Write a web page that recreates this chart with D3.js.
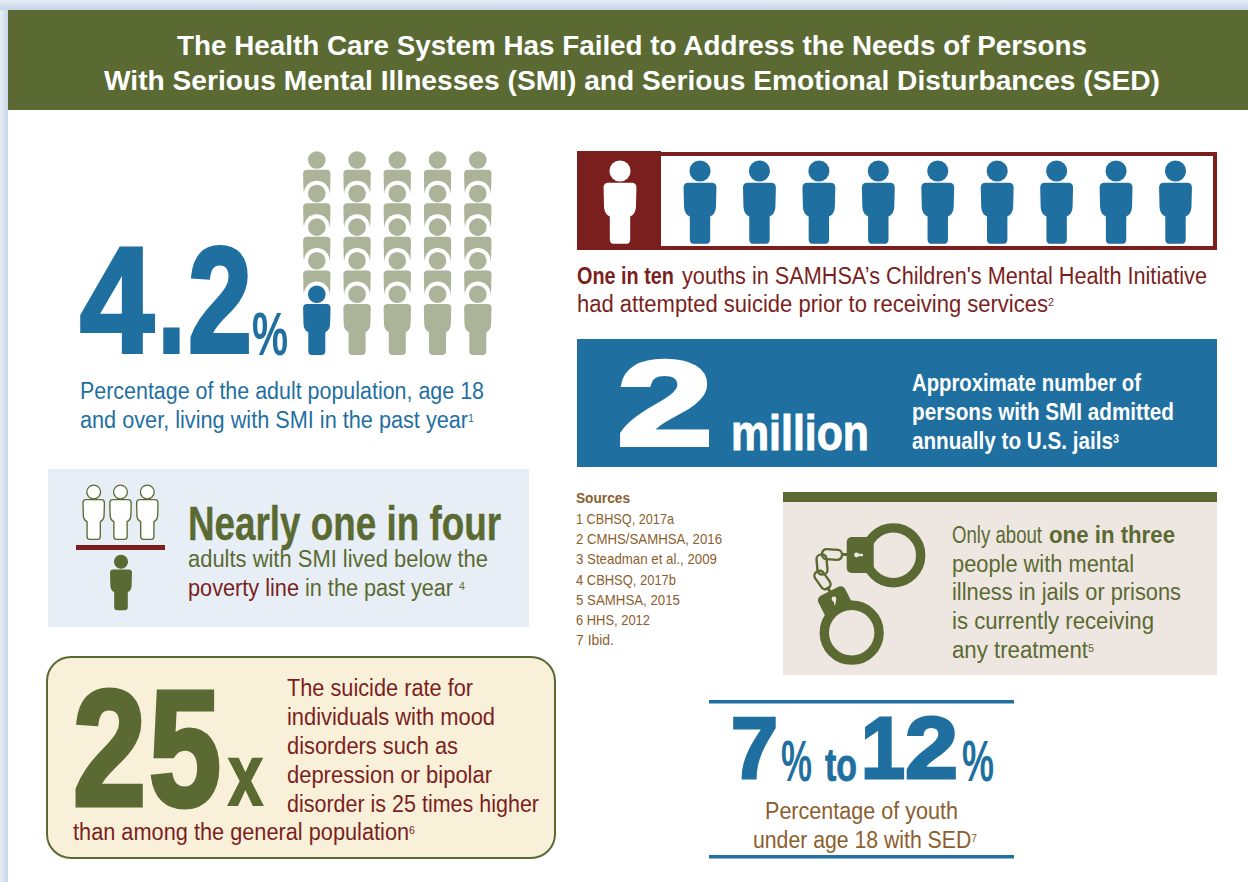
<!DOCTYPE html>
<html>
<head>
<meta charset="utf-8">
<script src="https://cdn.jsdelivr.net/npm/d3@7"></script>
<style>
  html, body { margin: 0; padding: 0; background: #fff; overflow: hidden; }
  svg { display: block; }
  text { font-family: "Liberation Sans Narrow", "Liberation Sans", sans-serif; }
</style>
</head>
<body>
<svg width="1248" height="882"></svg>
<script>
// data
const titleLines = ["The Health Care System Has Failed to Address the Needs of Persons",
  "With Serious Mental Illnesses (SMI) and Serious Emotional Disturbances (SED)"];
const adultCols = [0, 1, 2, 3, 4];
const adultRows = [0, 1, 2, 3, 4];
const adultHighlight = [[0, 4]]; // col,row: 1 in 25 = about 4.2%
const adultStat = ["4", ".", "2", "%"];
const adultText = ["Percentage of the adult population, age 18", "and over, living with SMI in the past year", "1"];
const youthPeople = [0, 1, 2, 3, 4, 5, 6, 7, 8]; // the nine others of "one in ten"
const suicideText = ["One in ten", "youths in SAMHSA\u2019s Children's Mental Health Initiative",
  "had attempted suicide prior to receiving services", "2"];
const jailStat = ["2", "million"];
const jailText = ["Approximate number of", "persons with SMI admitted", "annually to U.S. jails", "3"];
const povertyAbove = [0, 1, 2];
const povertyText = ["Nearly one in four", "adults with SMI lived below the", "poverty line", "in the past year ", "4"];
const moodStat = ["2", "5", "x"];
const moodText = ["The suicide rate for", "individuals with mood", "disorders such as", "depression or bipolar",
  "disorder is 25 times higher", "than among the general population", "6"];
const sourcesHead = "Sources";
const sources = ["1  CBHSQ, 2017a", "2  CMHS/SAMHSA, 2016", "3  Steadman et al., 2009", "4  CBHSQ, 2017b",
  "5  SAMHSA, 2015", "6  HHS, 2012", "7  Ibid."];
const treatText = ["Only about", "one in three", "people with mental", "illness in jails or prisons",
  "is currently receiving", "any treatment", "5"];
const sedStat = ["7", "%", "to", "1", "2", "%"];
const sedText = ["Percentage of youth", "under age 18 with SED", "7"];

const blue = "#1f6fa1", sage = "#abb399", maroon = "#7b1f1e", olive = "#5a6a32", brown = "#8b5e2e";

const svg = d3.select("svg");

// soft shadow along the top and left of the page
const defs = svg.append("defs");
const gradTop = defs.append("linearGradient").attr("id", "shTop").attr("x1", 0).attr("x2", 0).attr("y1", 0).attr("y2", 1);
gradTop.append("stop").attr("offset", 0).attr("stop-color", "#e6edf6");
gradTop.append("stop").attr("offset", 1).attr("stop-color", "#c6d5e8");
const gradLeft = defs.append("linearGradient").attr("id", "shLeft");
gradLeft.append("stop").attr("offset", 0).attr("stop-color", "#e6edf6");
gradLeft.append("stop").attr("offset", 1).attr("stop-color", "#c6d5e8");
svg.append("rect").attr("width", 1248).attr("height", 10).attr("fill", "url(#shTop)");
svg.append("rect").attr("y", 10).attr("width", 8).attr("height", 872).attr("fill", "url(#shLeft)");

function box(x, y, w, h, fill) {
  return svg.append("rect").attr("x", x).attr("y", y).attr("width", w).attr("height", h).attr("fill", fill);
}

// w is the measured width in the reference, the glyphs get squeezed to fit
function txt(x, y, str, size, color, w, bold, family) {
  const t = svg.append("text").attr("x", x).attr("y", y).attr("font-size", size).attr("fill", color).text(str);
  if (bold) t.attr("font-weight", "bold");
  if (family) t.style("font-family", family);
  if (w) t.attr("textLength", w).attr("lengthAdjust", "spacingAndGlyphs");
  return t;
}

// big numerals are heavier than any bold we have, so thicken with a stroke
function heavy(x, y, str, size, color, w, sw, family) {
  return txt(x, y, str, size, color, w, true, family)
    .attr("stroke", color).attr("stroke-width", sw).attr("stroke-linejoin", "miter");
}

function sup(t, str, dy, size) {
  t.append("tspan").attr("dy", dy).attr("font-size", size).attr("font-weight", t.attr("font-weight")).text(str);
  return t;
}

// person icon, origin at the centre of the head
const bodyPath = "M-9.7,9.7 H9.7 Q13.7,9.7 13.7,13.7 L13.3,30 Q13,36 8.5,38 V57 Q8.5,60.7 4.8,60.7 H-4.8 Q-8.5,60.7 -8.5,57 V38 Q-13,36 -13.3,30 L-13.7,13.7 Q-13.7,9.7 -9.7,9.7 Z";
function person(parent, x, y, s, fill, stroke) {
  const g = parent.append("g").attr("transform", `translate(${x},${y}) scale(${s})`);
  g.append("circle").attr("r", 8.8).attr("fill", fill);
  g.append("path").attr("d", bodyPath).attr("fill", fill);
  if (stroke) g.selectAll("*").attr("stroke", stroke).attr("stroke-width", 1.7);
  return g;
}

// header band
box(8, 10, 1240, 100, olive);
txt(632, 55, titleLines[0], 27.5, "#fff", 910, true, "Liberation Sans").attr("text-anchor", "middle");
txt(632, 90, titleLines[1], 27.5, "#fff", 1056, true, "Liberation Sans").attr("text-anchor", "middle");

// 4.2% block
const adultX = d3.scalePoint().domain(adultCols).range([316.8, 477.8]);
const adultY = d3.scalePoint().domain(adultRows).range([160, 294.3]);
const adultG = svg.append("g");
adultRows.forEach(r => adultCols.forEach(c => {
  const on = adultHighlight.some(h => h[0] === c && h[1] === r);
  if (r > 0) adultG.append("circle").attr("cx", adultX(c)).attr("cy", adultY(r)).attr("r", 12.8).attr("fill", "#fff");
  person(adultG, adultX(c), adultY(r), 1, on ? blue : sage);
}));
heavy(80, 351.5, adultStat[0], 150, blue, 74, 4);
heavy(158, 351.5, adultStat[1], 150, blue, 27, 4);
heavy(188, 351.5, adultStat[2], 150, blue, 64, 4);
txt(252, 355, adultStat[3], 62, blue, 36, true);
txt(80, 399, adultText[0], 23.5, blue, 404);
sup(txt(80, 428, adultText[1], 23.5, blue, 394), adultText[2], -6, 11.5);

// one in ten block
box(577, 152, 640, 4, maroon);
box(577, 246, 640, 4, maroon);
box(1213, 152, 4, 98, maroon);
box(577, 151, 84, 99, maroon);
person(svg, 620, 171, 1.2, "#fff");
const youthX = d3.scalePoint().domain(youthPeople).range([700, 1175.5]);
youthPeople.forEach(i => person(svg, youthX(i), 171, 1.2, blue));
txt(577, 284, suicideText[0], 23.5, maroon, 97, true);
txt(682, 284, suicideText[1], 23.5, maroon, 525);
sup(txt(577, 312, suicideText[2], 23.5, maroon, 477), suicideText[3], -6, 11.5);

// 2 million block
box(577, 339, 640, 128, blue);
heavy(617, 445, jailStat[0], 120, "#fff", 96, 4, "Liberation Sans");
heavy(731, 450, jailStat[1], 50, "#fff", 138, 1);
txt(912, 391, jailText[0], 23, "#fff", 229, true);
txt(912, 420, jailText[1], 23, "#fff", 262, true);
sup(txt(912, 449, jailText[2], 23, "#fff", 207, true), jailText[3], -6, 12);

// nearly one in four block
box(48, 469, 481, 158, "#e7eef5");
const povX = d3.scalePoint().domain(povertyAbove).range([93.7, 147.3]);
povertyAbove.forEach(i => person(svg, povX(i), 492, 0.78, "#fff", olive));
box(76, 545, 89, 5, maroon);
person(svg, 121, 561.7, 0.8, olive);
heavy(188, 540, povertyText[0], 49, olive, 313, 0.4);
txt(188, 567, povertyText[1], 23.5, olive, 300);
txt(188, 596, povertyText[2], 23.5, maroon, 111);
sup(txt(305, 596, povertyText[3], 23.5, olive, 160), povertyText[4], -6, 11.5);

// 25x block
svg.append("rect").attr("x", 47).attr("y", 657).attr("width", 508).attr("height", 201).attr("rx", 24)
  .attr("fill", "#f8f0d9").attr("stroke", olive).attr("stroke-width", 2);
heavy(73, 804.5, moodStat[0], 165, olive, 73, 5);
heavy(149, 804.5, moodStat[1], 165, olive, 72, 5);
heavy(228, 804.5, moodStat[2], 88, olive, 35, 2);
const moodW = [186, 208, 171, 205, 252];
const moodBase = d3.scalePoint().domain(d3.range(5)).range([696, 812]);
moodW.forEach((w, i) => txt(287, moodBase(i), moodText[i], 23.5, maroon, w));
sup(txt(73, 840, moodText[5], 23.5, maroon, 342), moodText[6], -6, 11.5);

// sources
txt(576, 503, sourcesHead, 14.5, brown, 54, true);
const srcY = d3.scalePoint().domain(d3.range(sources.length)).range([524, 645]);
const srcW = [98, 146, 141, 100, 104, 74, 38];
sources.forEach((s, i) => txt(576, srcY(i), s, 15, brown, srcW[i]));

// treatment block
box(783, 492, 434, 183, "#eee6e0");
box(783, 492, 434, 10, olive);
txt(952, 543, treatText[0], 23.5, olive, 90);
txt(1049, 543, treatText[1], 23.5, olive, 126, true);
txt(952, 572, treatText[2], 23.5, olive, 182);
txt(952, 600, treatText[3], 23.5, olive, 229);
txt(952, 629, treatText[4], 23.5, olive, 202);
sup(txt(952, 658, treatText[5], 23.5, olive, 142), treatText[6], -6, 11.5);

// handcuffs
const cuffs = svg.append("g").attr("fill", olive);
[[893.3, 555.3], [851.7, 632.7]].forEach(c => {
  cuffs.append("circle").attr("cx", c[0]).attr("cy", c[1]).attr("r", 27.4)
    .attr("fill", "none").attr("stroke", olive).attr("stroke-width", 9.4);
});
cuffs.append("rect").attr("x", 846.7).attr("y", 537).attr("width", 27).attr("height", 36).attr("rx", 5);
cuffs.append("rect").attr("x", -15).attr("y", -12).attr("width", 30).attr("height", 24).attr("rx", 5)
  .attr("transform", "translate(835,602) rotate(-27)");
cuffs.append("circle").attr("cx", 856.5).attr("cy", 555).attr("r", 2.4).attr("fill", "#eee6e0");
cuffs.append("path").attr("d", "M856,553.8 H863 V556.2 H856 Z").attr("fill", "#eee6e0");
cuffs.append("circle").attr("cx", 834).attr("cy", 599).attr("r", 2.4).attr("fill", "#eee6e0");
cuffs.append("path").attr("d", "M833,600 L836.2,600 L835,606 Z").attr("fill", "#eee6e0");
cuffs.append("path").attr("d", "M841,554.5 H848").attr("stroke", olive).attr("stroke-width", 3);
cuffs.append("path").attr("d", "M827,587 L831,593").attr("stroke", olive).attr("stroke-width", 3);
[[832, 554.5, 4], [822, 564.5, 85], [822.5, 580, 55]].forEach(l => {
  cuffs.append("rect").attr("x", -10).attr("y", -5).attr("width", 20).attr("height", 10).attr("rx", 4.5)
    .attr("fill", "none").attr("stroke", olive).attr("stroke-width", 2.4)
    .attr("transform", `translate(${l[0]},${l[1]}) rotate(${l[2]})`);
});

// 7% to 12%
box(709, 700, 305, 3.5, blue);
box(709, 855, 305, 3.5, blue);
heavy(731, 778, sedStat[0], 88, blue, 47, 3);
txt(781, 781, sedStat[1], 58, blue, 31, true);
heavy(825, 781, sedStat[2], 46, blue, 32, 0.8);
heavy(861, 778, sedStat[3], 88, blue, 44, 3);
heavy(905, 778, sedStat[4], 88, blue, 53, 3);
txt(962, 781, sedStat[5], 58, blue, 32, true);
txt(765, 819, sedText[0], 23.5, brown, 193);
sup(txt(753, 848, sedText[1], 23.5, brown, 224), sedText[2], -6, 11.5);
</script>
</body>
</html>
